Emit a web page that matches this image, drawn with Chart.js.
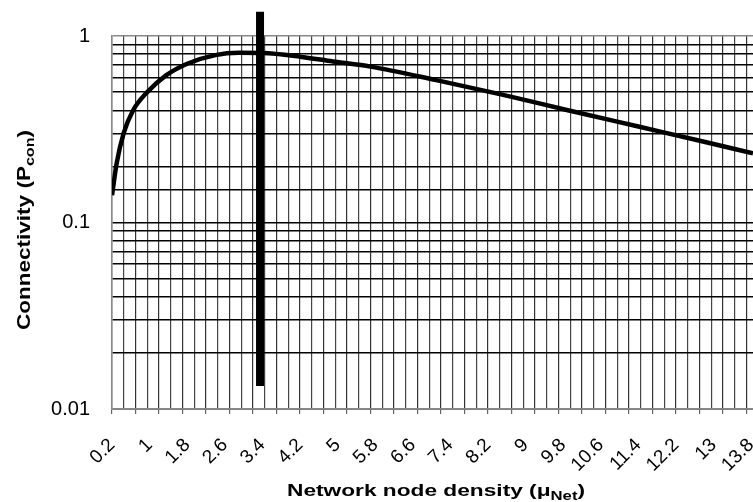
<!DOCTYPE html>
<html>
<head>
<meta charset="utf-8">
<script src="https://cdn.jsdelivr.net/npm/chart.js@4/dist/chart.umd.min.js"></script>
<style>
  html, body { margin: 0; padding: 0; background: #fff; }
  #wrap { width: 753px; height: 502px; }
</style>
</head>
<body>
<div id="wrap"><canvas id="graph"></canvas></div>
<script>
// Data

const densityX = [0.2, 0.3, 0.45, 0.65, 0.95, 1.35, 1.8, 2.4, 2.9, 3.4, 4.2, 4.9, 5.7, 7.1, 8.5, 9.9, 11.4, 12.8, 13.84];
const connectivity = [0.14, 0.208, 0.302, 0.4, 0.5, 0.615, 0.71, 0.79, 0.812, 0.81, 0.775, 0.73, 0.685, 0.58, 0.485, 0.4, 0.327, 0.271, 0.235];

// thick vertical marker
const markerX = [3.35, 3.35];
const markerY = [0.0133, 1.35];

const xTickLabels = ['0.2', '1', '1.8', '2.6', '3.4', '4.2', '5', '5.8', '6.6', '7.4', '8.2', '9', '9.8', '10.6', '11.4', '12.2', '13', '13.8'];
const xTickValues = xTickLabels.map(Number);
const xGridValues = [0.2, 0.45, 0.7, 0.95, 1.2, 1.45, 1.7, 1.95, 2.2, 2.45, 2.7, 2.95, 3.2, 3.45, 3.7, 3.95, 4.2, 4.45, 4.7, 4.95,
  5.2, 5.45, 5.7, 5.95, 6.2, 6.45, 6.7, 6.95, 7.2, 7.45, 7.7, 7.95, 8.2, 8.45, 8.7, 8.95, 9.2, 9.45, 9.7, 9.95,
  10.2, 10.45, 10.7, 10.95, 11.2, 11.45, 11.7, 11.95, 12.2, 12.45, 12.7, 12.95, 13.2, 13.45, 13.7];
const yTickLabels = { 0.01: '0.01', 0.1: '0.1', 1: '1' };

const X_MIN = 0.2;
const X_MAX = 13.84;

// axis titles with subscripts, stretched to the width seen in the picture
const axisTitles = {
  id: 'axisTitles',
  afterDraw(chart) {
    const { ctx } = chart;
    const font = (s) => `bold ${s}px "Liberation Sans", Arial, sans-serif`;

    function drawSub(main, sub, size, subSize, targetWidth) {
      ctx.font = font(size);
      const w1 = ctx.measureText(main).width;
      ctx.font = font(subSize);
      const w2 = ctx.measureText(sub).width;
      ctx.font = font(size);
      const w3 = ctx.measureText(')').width;
      const total = w1 + w2 + w3;
      ctx.scale(targetWidth / total, 1);
      let x = -total / 2;
      ctx.textAlign = 'left';
      ctx.textBaseline = 'alphabetic';
      ctx.font = font(size);
      ctx.fillText(main, x, 0);
      x += w1;
      ctx.font = font(subSize);
      ctx.fillText(sub, x, subSize * 0.35);
      x += w2;
      ctx.font = font(size);
      ctx.fillText(')', x, 0);
    }

    ctx.save();
    ctx.fillStyle = '#000';
    // x title
    ctx.save();
    ctx.translate(436, 496);
    drawSub('Network node density (\u03bc', 'Net', 17, 12.5, 298);
    ctx.restore();
    // y title
    ctx.save();
    ctx.translate(30, 230);
    ctx.rotate(-Math.PI / 2);
    drawSub('Connectivity (P', 'con', 17.5, 12.5, 200);
    ctx.restore();
    ctx.restore();
  }
};

const ctx = document.getElementById('graph').getContext('2d');
const chart = new Chart(ctx, {
  type: 'line',
  data: {
    datasets: [
      {
        label: 'Connectivity',
        data: densityX.map((x, i) => ({ x: x, y: connectivity[i] })),
        borderColor: '#000',
        borderWidth: 4.5,
        pointRadius: 0,
        cubicInterpolationMode: 'monotone',
        fill: false,
        xAxisID: 'x',
      },
      {
        label: 'Marker',
        data: markerX.map((x, i) => ({ x: x, y: markerY[i] })),
        borderColor: '#000',
        borderWidth: 8,
        borderCapStyle: 'butt',
        pointRadius: 0,
        clip: false,
        xAxisID: 'x',
      },
    ],
  },
  options: {
    responsive: true,
    maintainAspectRatio: false,
    animation: false,
    layout: { padding: { left: 0, top: 36, right: 0, bottom: 0 } },
    plugins: {
      legend: { display: false },
      tooltip: { enabled: false },
    },
    scales: {
      x: {
        type: 'linear',
        position: 'bottom',
        min: X_MIN,
        max: X_MAX,
        afterBuildTicks: (scale) => {
          scale.ticks = xGridValues.map((v) => ({ value: v }));
        },
        afterFit: (scale) => {
          scale.height = 5;
          scale.paddingLeft = 0;
          scale.paddingRight = 0;
        },
        ticks: { display: false, autoSkip: false },
        grid: {
          color: (c) => (c.index % 2 === 0 ? '#333' : '#444'),
          lineWidth: 1.2,
          tickLength: 5,
          tickColor: (c) => (c.index % 2 === 0 ? '#666' : 'rgba(0,0,0,0)'),
        },
        border: { display: true, color: '#888', width: 1.5 },
      },
      x2: {
        type: 'linear',
        position: 'bottom',
        min: X_MIN,
        max: X_MAX,
        afterBuildTicks: (scale) => {
          scale.ticks = xTickValues.map((v) => ({ value: v }));
        },
        afterFit: (scale) => {
          scale.height = 88;
          scale.paddingLeft = 0;
          scale.paddingRight = 0;
        },
        ticks: {
          autoSkip: false,
          minRotation: 45,
          maxRotation: 45,
          padding: 20,
          color: '#000',
          font: { family: '"Liberation Sans", Arial, sans-serif', size: 19 },
          callback: (value, index) => xTickLabels[index],
        },
        grid: { display: false, drawTicks: false },
        border: { display: false },
      },
      y: {
        type: 'logarithmic',
        min: 0.01,
        max: 1,
        afterFit: (scale) => {
          scale.width = 112;
        },
        ticks: {
          autoSkip: false,
          padding: 22,
          color: '#000',
          font: { family: '"Liberation Sans", Arial, sans-serif', size: 20 },
          callback: (value) => yTickLabels[value] || '',
        },
        grid: {
          color: (c) => (c.tick && c.tick.value === 1 ? '#888' : '#000'),
          lineWidth: 1.4,
          drawTicks: false,
        },
        border: { display: true, color: '#888', width: 1.5 },
      },
    },
  },
  plugins: [axisTitles],
});
</script>
</body>
</html>
